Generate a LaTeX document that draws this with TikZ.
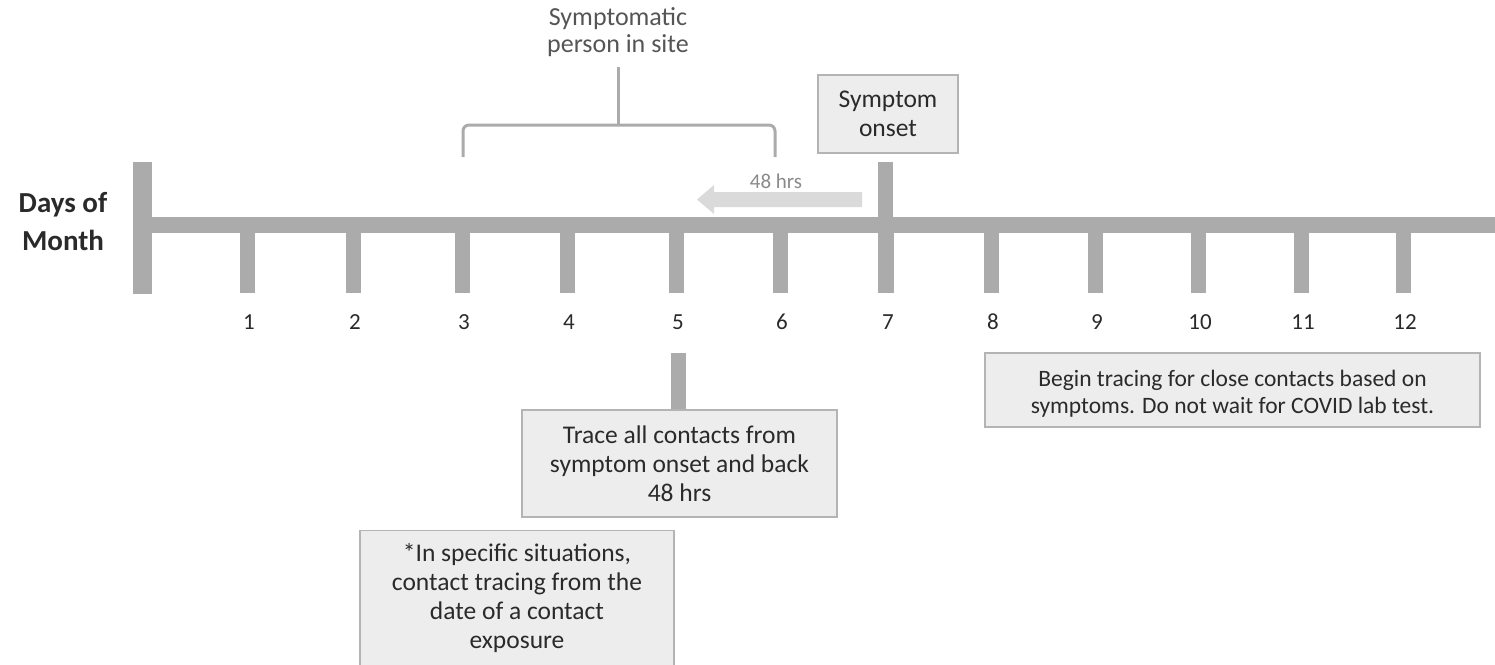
\documentclass[tikz,border=0pt]{standalone}
\usepackage{fontspec}
\setmainfont{Carlito}
\definecolor{barc}{HTML}{ABABAB}
\definecolor{boxfill}{HTML}{EDEDED}
\definecolor{boxline}{HTML}{B4B4B4}
\definecolor{arrowc}{HTML}{DADADA}
\definecolor{txt}{HTML}{2A2A2A}
\definecolor{ltxt}{HTML}{8A8A8A}
\tikzset{
  bar/.style={fill=barc},
  infobox/.style={draw=boxline, line width=1.2pt, fill=boxfill, align=center, text=txt, inner sep=0pt,
    font=\fontsize{25.5}{29}\selectfont},
  boxtext/.style={text=txt, align=center, inner sep=0pt},
  numlbl/.style={text=txt, font=\fontsize{23}{26}\selectfont, inner sep=0pt},
  brk/.style={draw=barc, line width=3pt, rounded corners=6pt},
  stem/.style={draw=barc, line width=15pt},
  title/.style={text=txt, font=\fontsize{29}{38}\selectfont\bfseries, align=center, inner sep=0pt},
  toplbl/.style={text=txt!80, font=\fontsize{26}{27}\selectfont, align=center, inner sep=0pt}
}
\begin{document}
\begin{tikzpicture}[x=1pt,y=-1pt]
\useasboundingbox (0,0) rectangle (1495,664);
% main axis
\fill[bar] (133,217) rectangle (1495,233);
\fill[bar] (133,162) rectangle (152,294);
\fill[bar] (878,162) rectangle (893,293);
\foreach \x/\n in {247/1,353/2,462/3,567/4,676/5,780/6,886/7,991/8,1095/9,1198/10,1301/11,1403/12}{
  \fill[bar] (\x-7.5,233) rectangle (\x+7.5,293);
  \node[numlbl] (d\n) at (\x+2,322) {\n};
}
\node[title] (days) at (63,222) {Days of\\Month};
% 48 hrs arrow
\fill[arrowc] (862,192) -- (714,192) -- (714,185) -- (697,199.5) -- (714,214) -- (714,207) -- (862,207) -- cycle;
\node[text=ltxt, font=\fontsize{21}{24}\selectfont, inner sep=0pt] (hrs) at (776,181) {48 hrs};
% symptom onset
\node[infobox, minimum width=140pt, minimum height=78pt] (onset) at (888,114) {Symptom\\onset};
% bracket
\node[toplbl] (site) at (618,32) {Symptomatic\\person in site};
\draw[brk] (463,157) -- (463,125) -- (775,125) -- (775,157);
\coordinate (bmid) at (618,125);
\draw[draw=barc, line width=3pt] (bmid) -- (618,67);
% trace box
\node[infobox, minimum width=315pt, minimum height=107pt] (trace) at (679.5,463.5) {Trace all contacts from\\symptom onset and back\\48 hrs};
\coordinate (t5) at (678,353);
\draw[stem] (t5) -- (trace.north -| t5);
% footnote box
\node[infobox, minimum width=314pt, minimum height=150pt, anchor=north] (note) at (517,530) {};
\node[boxtext, font=\fontsize{25.5}{29}\selectfont, anchor=north] (notetxt) at (517,543) {*In specific situations,\\contact tracing from the\\date of a contact\\exposure};
% begin tracing box
\node[infobox, minimum width=495pt, minimum height=74pt] (begin) at (1232.5,390) {};
\node[boxtext, font=\fontsize{23.5}{27}\selectfont] (begintxt) at (1232.5,394) {Begin tracing for close contacts based on\\symptoms. Do not wait for COVID lab test.};
\end{tikzpicture}
\end{document}
